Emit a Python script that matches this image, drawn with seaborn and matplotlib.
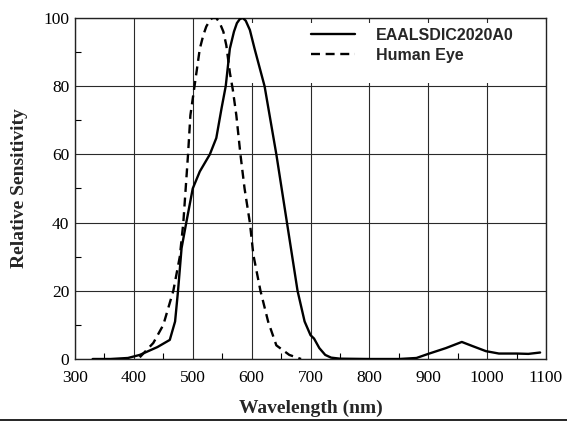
import matplotlib
matplotlib.use("Agg")
import matplotlib.pyplot as plt
from matplotlib.lines import Line2D
from matplotlib.patches import Rectangle
from matplotlib.ticker import MultipleLocator
import seaborn as sns
import pandas as pd

# Sensor (EAALSDIC2020A0) spectral response
sensor_wl = [330, 360, 390, 410, 440, 461, 470, 475, 481, 489, 500, 512, 529, 540,
             549, 556, 563, 570, 575, 580, 585, 590, 597, 605, 622, 642, 660, 678,
             690, 700, 706, 715, 725, 735, 750, 800, 850, 880, 900, 930, 957, 975,
             998, 1020, 1050, 1070, 1090]
sensor_val = [0, 0, 0.3, 1.2, 3.5, 5.6, 11, 20, 32.5, 40, 50, 55, 60, 64.8,
              73.6, 80, 91, 96, 98.5, 99.7, 100, 99.2, 96.5, 91, 80, 60, 40, 20,
              11, 7, 6, 3.2, 1.2, 0.4, 0.1, 0, 0, 0.3, 1.5, 3.2, 5, 3.8,
              2.3, 1.6, 1.6, 1.5, 1.9]

# Human eye response
eye_wl = [410, 433, 450, 467, 478, 484, 492, 496, 503, 512, 518, 523, 528, 533,
          540, 546, 552, 557, 563, 568, 574, 581, 588, 597, 603, 615, 628, 642,
          664, 684]
eye_val = [0.5, 4.7, 10, 20, 30, 40, 60, 71.5, 80, 91, 95, 97.5, 99, 100,
           100, 98.5, 96, 92, 84, 79, 71.5, 60, 50, 40, 30.5, 20, 11, 4,
           1.2, 0]

series_names = ["EAALSDIC2020A0", "Human Eye"]
x_ticks = [300, 400, 500, 600, 700, 800, 900, 1000, 1100]
y_ticks = [0, 20, 40, 60, 80, 100]

sns.set_style("white")
plt.rcParams["font.family"] = ["Liberation Serif", "DejaVu Serif"]

fig = plt.figure(figsize=(5.67, 4.21), dpi=100)
ax = fig.add_axes([75 / 567, 1 - 359 / 421, (546 - 75) / 567, (359 - 18) / 421])

df_s = pd.DataFrame({"wl": sensor_wl, "val": sensor_val})
df_e = pd.DataFrame({"wl": eye_wl, "val": eye_val})

dash = (0, (3.8, 2.4))
sns.lineplot(data=df_s, x="wl", y="val", ax=ax, color="black", lw=1.7,
             zorder=3, legend=False)
sns.lineplot(data=df_e, x="wl", y="val", ax=ax, color="black", lw=1.7,
             linestyle=dash, zorder=3, legend=False)

ax.set_xlim(300, 1100)
ax.set_ylim(0, 100)
ax.set_xticks(x_ticks)
ax.set_yticks(y_ticks)
ax.xaxis.set_minor_locator(MultipleLocator(50))
ax.yaxis.set_minor_locator(MultipleLocator(10))
ax.set_axisbelow(True)
ax.grid(True, which="major", color="#2a2a2a", lw=0.8)

ax.tick_params(which="both", direction="in", bottom=True, left=True,
               top=False, right=False, colors="black")
ax.tick_params(which="major", length=0, labelsize=12.5)
ax.tick_params(axis="x", which="major", pad=8)
ax.tick_params(axis="y", which="major", pad=4)
ax.tick_params(which="minor", length=4, width=0.8)
for s in ax.spines.values():
    s.set_color("#222222")
    s.set_linewidth(1.0)

ax.set_xlabel("Wavelength (nm)", fontsize=14, fontweight="bold", labelpad=10)
ax.set_ylabel("Relative Sensitivity", fontsize=14, fontweight="bold", labelpad=11)

# white background behind legend
ax.add_patch(Rectangle((0.285, 0.81), 0.715, 0.175, transform=ax.transAxes,
                       facecolor="white", edgecolor="none", zorder=1))

handles = [Line2D([], [], color="black", lw=1.7),
           Line2D([], [], color="black", lw=1.7, linestyle=dash)]
leg = ax.legend(handles, series_names, loc="upper left",
                bbox_to_anchor=(0.49, 0.985), frameon=False,
                prop={"family": "Liberation Sans", "weight": "bold", "size": 11.5},
                handlelength=2.8, handletextpad=1.3, labelspacing=0.3,
                borderaxespad=0, borderpad=0.3)
leg.set_zorder(4)

fig.add_artist(Line2D([0, 1], [1.5 / 421, 1.5 / 421], color="black", lw=1.2,
                      transform=fig.transFigure))

fig.savefig("out.png", dpi=100, facecolor="white")
